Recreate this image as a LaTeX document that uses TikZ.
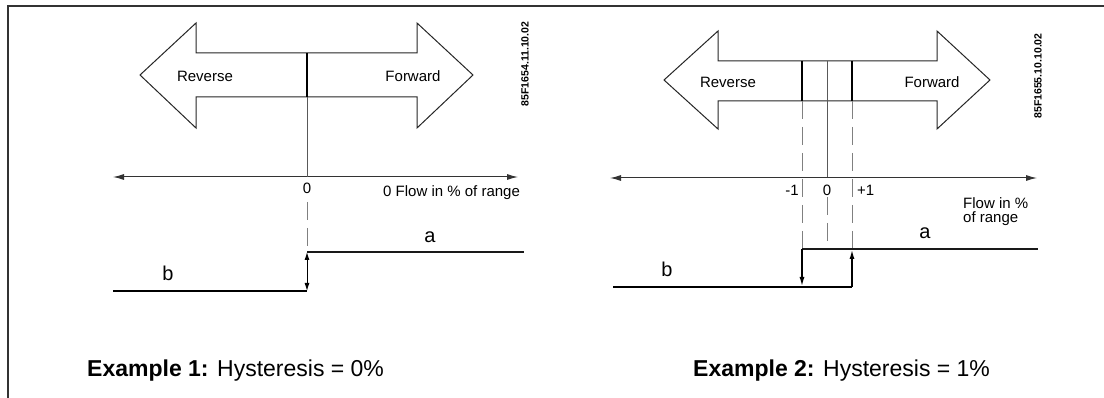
\documentclass[tikz,border=0pt]{standalone}
\usepackage{fontspec}
\setmainfont{Liberation Sans}
\usetikzlibrary{arrows.meta}
\begin{document}
\begin{tikzpicture}[x=1pt,y=-1pt,
  frame/.style={line width=1.5pt, draw=black!80},
  thinline/.style={line width=0.8pt, draw=black!65},
  thickline/.style={line width=2.4pt, draw=black},
  divline/.style={line width=2pt, draw=black},
  dashline/.style={line width=0.9pt, draw=black!50, dash pattern=on 18pt off 8pt},
  stepline/.style={line width=1.3pt, draw=black!90},
  arrowshape/.style={line width=1pt, draw=black!85, fill=white},
  axis/.style={line width=1pt, draw=black!80, {Latex[length=11pt,width=6pt]}-{Latex[length=11pt,width=6pt]}},
  lbl/.style={font=\fontsize{15}{17}\selectfont, inner sep=0pt},
  big/.style={font=\fontsize{20}{22}\selectfont, inner sep=0pt},
  code/.style={font=\fontsize{10.5}{12}\selectfont\bfseries, rotate=90, inner sep=0pt},
  title/.style={font=\fontsize{23}{26}\selectfont, inner sep=0pt, anchor=base west}]
\useasboundingbox (0,0) rectangle (1104,398);
% frame
\coordinate (fbl) at (8,398);
\coordinate (ftl) at (8,6);
\coordinate (ftr) at (1104,6);
\draw[frame] (fbl) -- (ftl) -- (ftr);

% ---------------- Example 1 ----------------
\draw[arrowshape] (140,75) -- (196,23) -- (196,53) -- (417,53) -- (417,23) -- (473,75)
  -- (417,128) -- (417,97) -- (196,97) -- (196,128) -- cycle;
\node[lbl] (rev1) at (205,76) {Reverse};
\node[lbl] (fwd1) at (413,76) {Forward};
\coordinate (d1t) at (307,53);
\coordinate (d1b) at (307,97);
\draw[divline] (d1t) -- (d1b);
\coordinate (ax1l) at (113,177);
\coordinate (ax1r) at (518,177);
\coordinate (ax1c) at (307,177);
\draw[axis] (ax1l) -- (ax1r);
\draw[thinline] (d1b) -- (ax1c);
\node[lbl] (z1) at (307,188) {0};
\node[lbl, anchor=west] (flow1) at (383,193) {0 Flow in \% of range};
\coordinate (dz1) at (307,202);
\coordinate (a1s) at (307,252);
\coordinate (a1e) at (524,252);
\coordinate (b1s) at (113,291);
\coordinate (b1e) at (307,291);
\draw[dashline] (dz1) -- (a1s);
\draw[stepline] (a1s) -- (a1e);
\draw[thickline] (b1s) -- (b1e);
\draw[line width=1pt, {Latex[length=8pt,width=5pt]}-{Latex[length=8pt,width=5pt]}] (b1e) -- (a1s);
\node[big] (a1) at (430,237) {a};
\node[big] (b1) at (168,273) {b};
\node[code] (c1) at (525,64) {85F1654.11.10.02};
\node[title] (t1) at (87,377) {\textbf{Example 1:} Hysteresis = 0\%};

% ---------------- Example 2 ----------------
\draw[arrowshape] (664,80) -- (718,31) -- (718,61) -- (937,61) -- (937,31) -- (990,80)
  -- (937,129) -- (937,101) -- (718,101) -- (718,129) -- cycle;
\node[lbl] (rev2) at (728,82) {Reverse};
\node[lbl] (fwd2) at (932,82) {Forward};
\coordinate (m1t) at (802,61);
\coordinate (m1b) at (802,101);
\coordinate (p1t) at (852,61);
\coordinate (p1b) at (852,101);
\coordinate (c2t) at (827,61);
\coordinate (c2a) at (827,178);
\draw[divline] (m1t) -- (m1b);
\draw[divline] (p1t) -- (p1b);
\draw[thinline] (c2t) -- (c2a);
\coordinate (ax2l) at (610,178);
\coordinate (ax2r) at (1037,178);
\draw[axis] (ax2l) -- (ax2r);
\node[lbl, anchor=east] (m1) at (799,190) {-1};
\node[lbl] (z2) at (827,190) {0};
\node[lbl, anchor=west] (p1) at (857,190) {+1};
\node[lbl, anchor=north west, align=left, font=\fontsize{15}{14}\selectfont] (flow2) at (963,197) {Flow in \%\\of range};
\coordinate (a2s) at (802,249);
\coordinate (a2c) at (827,249);
\coordinate (a2p) at (852,249);
\coordinate (a2e) at (1038,249);
\coordinate (b2s) at (613,287);
\coordinate (b2m) at (802,287);
\coordinate (b2e) at (852,287);
\coordinate (dz2) at (827,197);
\draw[dashline] (m1b) -- (a2s);
\draw[dashline] (p1b) -- (a2p);
\draw[dashline] (dz2) -- (a2c);
\draw[stepline] (a2s) -- (a2e);
\draw[thickline] (b2s) -- (b2e);
\draw[line width=1.8pt, -{Latex[length=10pt,width=5pt]}] (a2s) -- (b2m);
\draw[line width=1.8pt, -{Latex[length=10pt,width=5pt]}] (b2e) -- (a2p);
\node[big] (a2) at (925,233) {a};
\node[big] (b2) at (667,269) {b};
\node[code] (c2) at (1038,76) {85F1655.10.10.02};
\node[title] (t2) at (693,377) {\textbf{Example 2:} Hysteresis = 1\%};
\end{tikzpicture}
\end{document}
